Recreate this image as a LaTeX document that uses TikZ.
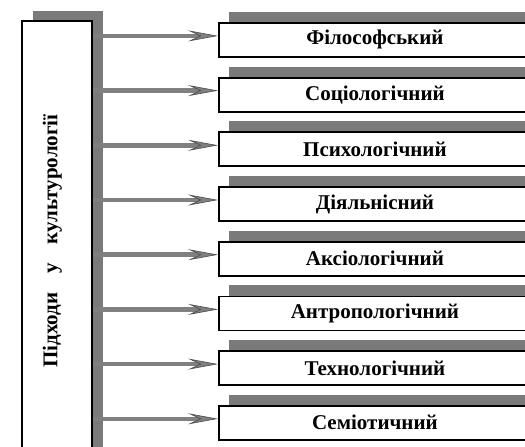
\documentclass[tikz,border=0pt]{standalone}
\usepackage{fontspec}
\setmainfont{Liberation Serif}
\usetikzlibrary{shadows,arrows.meta}

\tikzset{
  pidkhid/.style={draw=black, line width=1.8pt, fill=white, minimum width=312pt,
    minimum height=34pt, anchor=north west, inner sep=0pt,
    font=\fontsize{21}{24}\selectfont\bfseries,
    copy shadow={fill=black!52, draw=none, shadow xshift=10pt, shadow yshift=11pt}},
  strilka/.style={draw=black!50, line width=4.5pt,
    -{Stealth[length=30pt, width=11pt, inset=12pt, color=black!70, fill=black!50, line width=0.6pt]}}
}

\begin{document}
\begin{tikzpicture}[x=1pt,y=-1pt]
\clip (0,0) rectangle (525,447);
% left column with the vertical title
\node[rotate=90, draw=black, line width=1.8pt, fill=white, minimum width=440pt, minimum height=70pt,
  inner sep=0pt, font=\fontsize{21}{24}\selectfont\bfseries,
  copy shadow={fill=black!52, draw=none, shadow xshift=11pt, shadow yshift=10pt}]
  (pidkhody) at (57,241) {Підходи\hspace{0.9em}у\hspace{0.9em}культурології\rule[-14pt]{0pt}{1pt}};
% the eight approaches
\node[pidkhid] (p1) at (218,22.0) {Філософський};
\node[pidkhid] (p2) at (218,76.7) {Соціологічний};
\node[pidkhid] (p3) at (218,131.4) {Психологічний};
\node[pidkhid] (p4) at (218,186.1) {Діяльнісний};
\node[pidkhid] (p5) at (218,240.8) {Аксіологічний};
\node[pidkhid] (p6) at (218,295.5) {Антропологічний};
\node[pidkhid] (p7) at (218,350.2) {Технологічний};
\node[pidkhid] (p8) at (218,404.9) {Семіотичний};
% arrows from the column to each box
\foreach \i in {1,...,8}
  \draw[strilka] ([yshift=4pt]pidkhody.south |- p\i.west) -- ([yshift=4pt]p\i.west);
\end{tikzpicture}
\end{document}
